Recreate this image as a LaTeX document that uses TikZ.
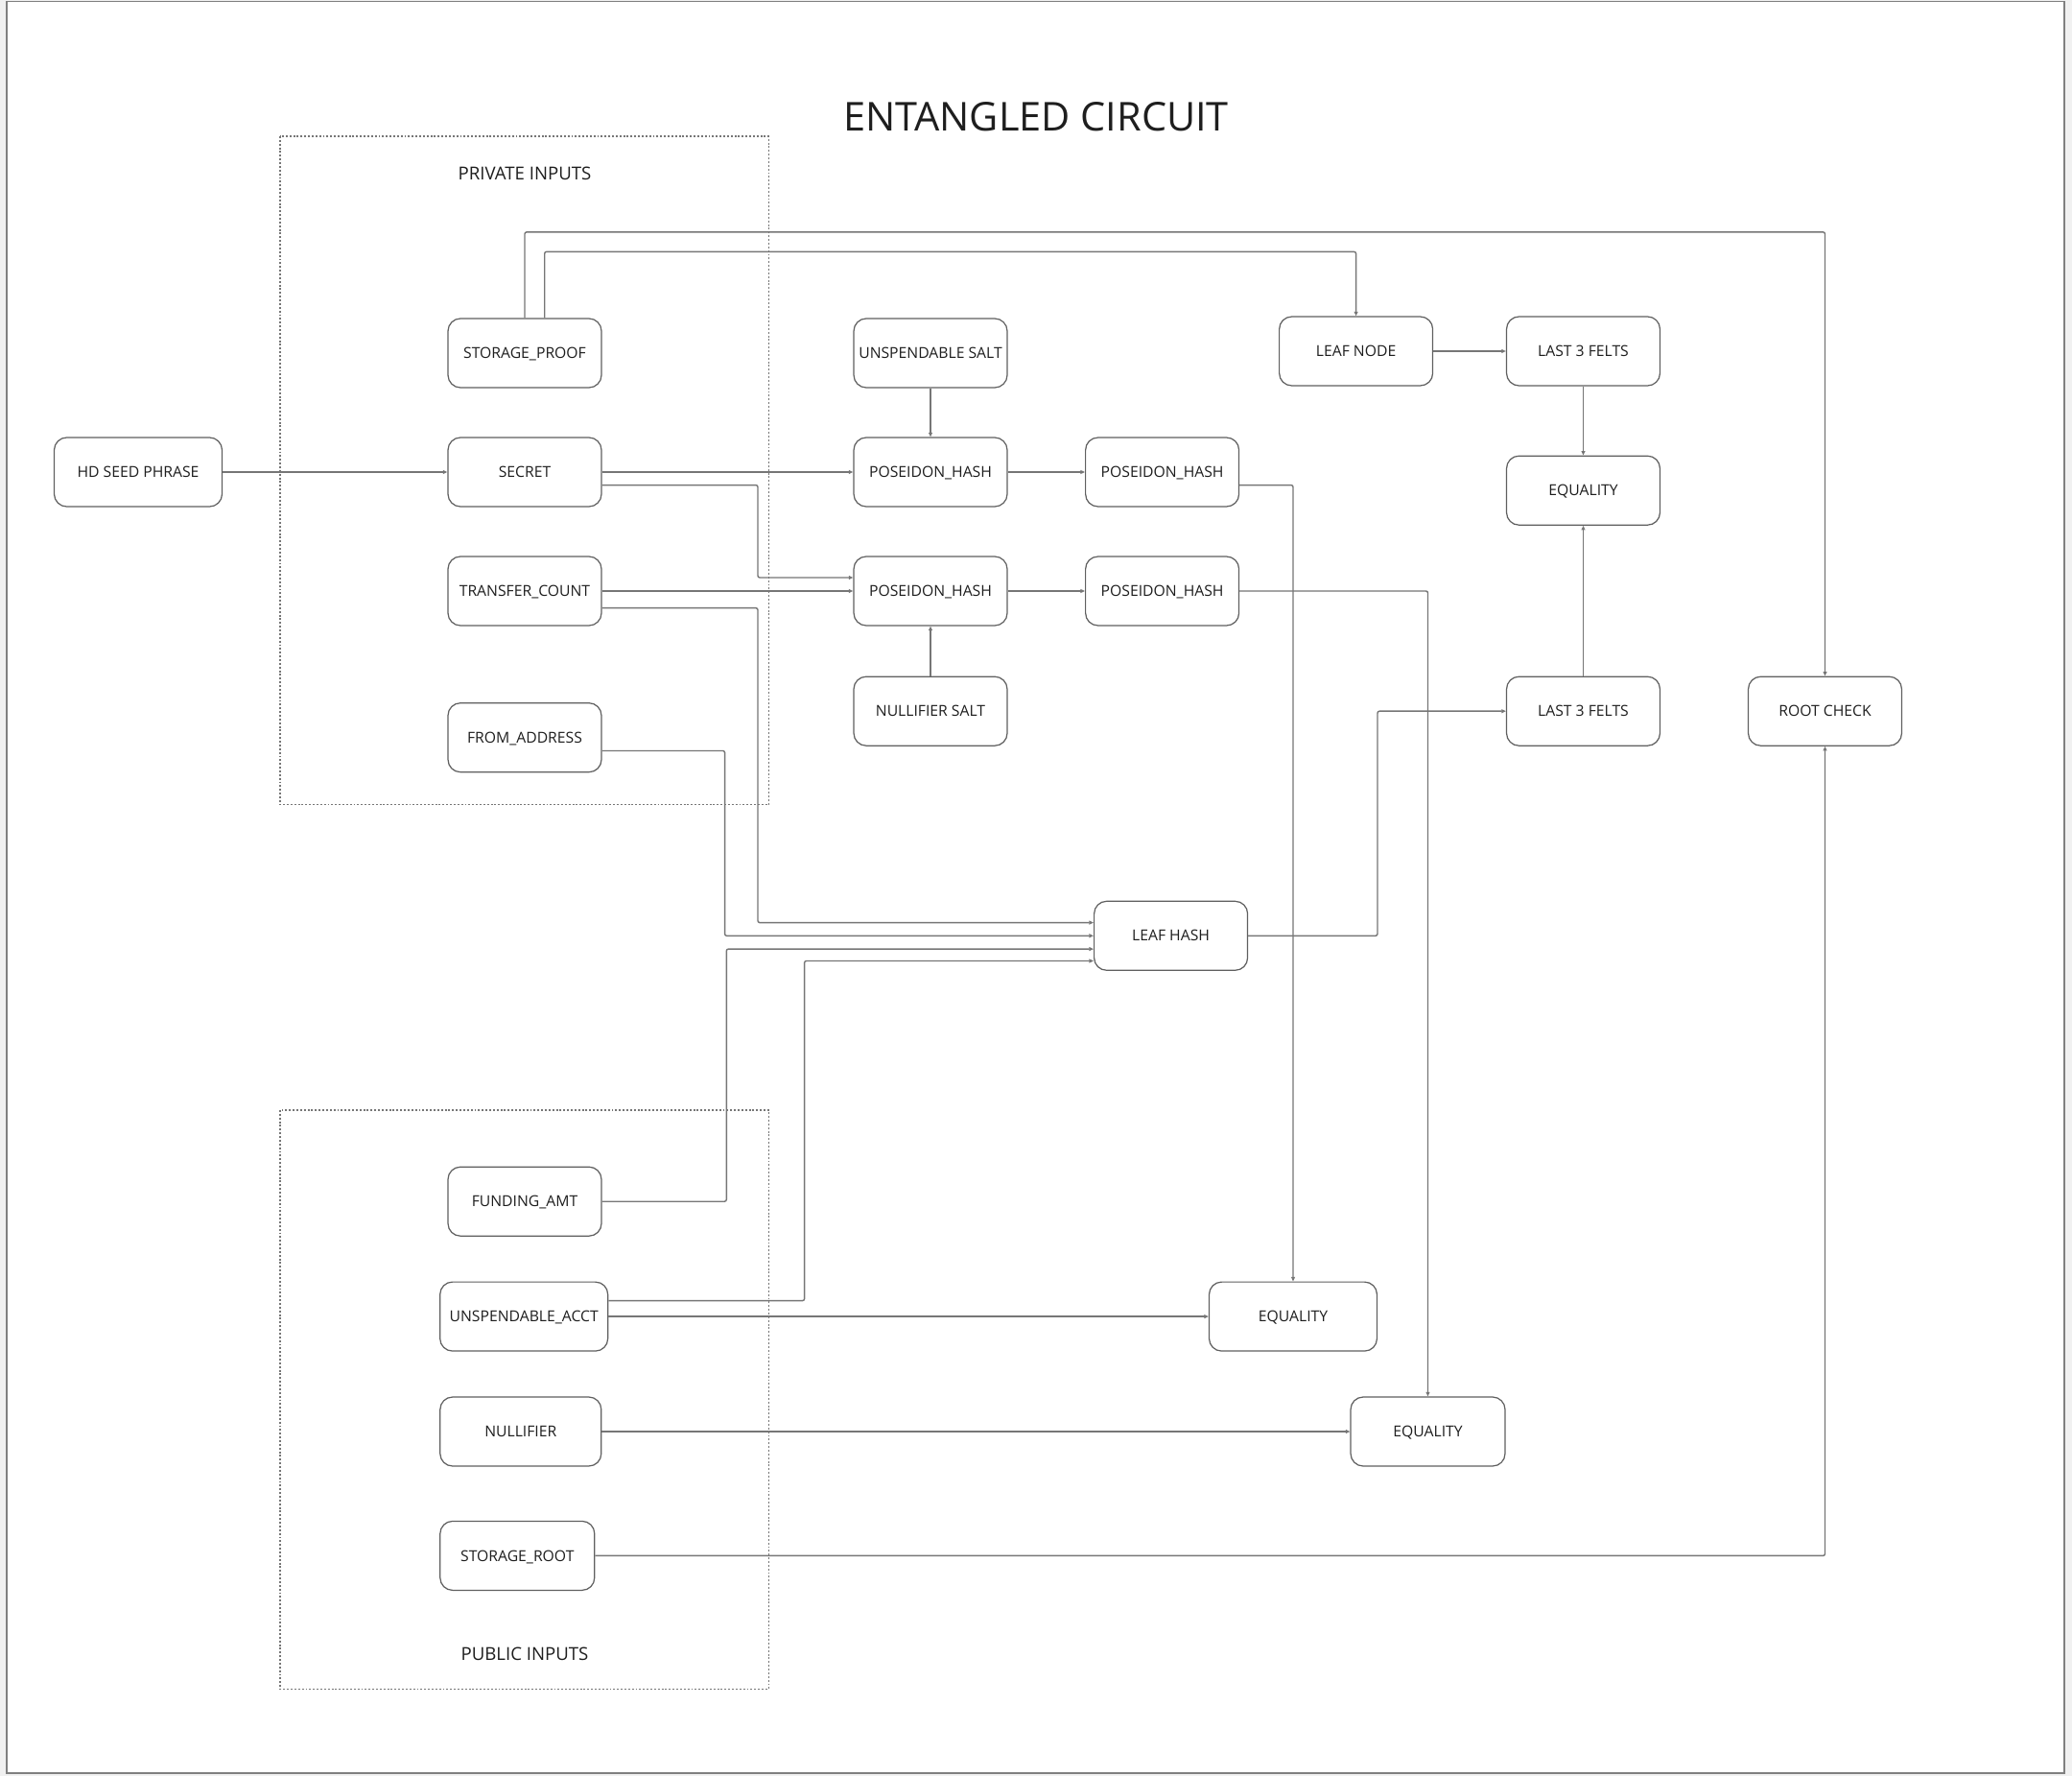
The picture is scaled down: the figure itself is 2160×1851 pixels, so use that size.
\documentclass[tikz,border=0pt]{standalone}
\usepackage{fontspec}
\setmainfont{Open Sans}
\usetikzlibrary{calc,arrows.meta}

\definecolor{edgegray}{RGB}{118,118,118}
\definecolor{boxgray}{RGB}{96,96,96}
\definecolor{pagegray}{RGB}{241,241,241}
\definecolor{textblack}{RGB}{30,30,30}

\begin{document}
\begin{tikzpicture}[x=0.02cm,y=-0.02cm,
    block/.style={draw=boxgray, line width=0.7pt, rounded corners=0.26cm,
      minimum width=3.2cm, minimum height=1.44cm, inner sep=0pt,
      text=textblack, font=\fontsize{8.95}{11}\selectfont,
      text height=6.4pt, text depth=0pt},
    wide/.style={minimum width=3.5cm},
    wire/.style={draw=edgegray, line width=0.8pt, rounded corners=0.04cm},
    arr/.style={wire, -{Triangle[length=2.6pt,width=2.2pt]}},
    group/.style={draw=edgegray, line width=0.7pt, dash pattern=on 1.1pt off 1.1pt},
    grouplabel/.style={text=textblack, font=\fontsize{10.6}{13}\selectfont,
      text height=7.6pt, text depth=0pt}]

    \useasboundingbox (0,0) rectangle (2160,1851);
    \fill[pagegray] (0,0) rectangle (2160,1851);
    \draw[fill=white, draw=gray, line width=1pt] (7,1.5) rectangle (2152,1848);

    \node[text=textblack, font=\fontsize{23.6}{28}\selectfont,
      text height=16.8pt, text depth=0pt] (title) at (1080,122) {ENTANGLED CIRCUIT};

    % input groups
    \draw[group] (292,142) rectangle (801.5,838.5);
    \draw[group] (292,1157) rectangle (801.5,1760.5);
    \node[grouplabel] (privlabel) at (547,180.5) {PRIVATE INPUTS};
    \node[grouplabel] (publabel) at (547,1723.4) {PUBLIC INPUTS};

    % private inputs
    \node[block, wide] (seed) at (144,492) {HD SEED PHRASE};
    \node[block] (proof) at (547,368) {STORAGE\_PROOF};
    \node[block] (secret) at (547,492) {SECRET};
    \node[block] (count) at (547,616) {TRANSFER\_COUNT};
    \node[block] (from) at (547,768.7) {FROM\_ADDRESS};

    % hashing
    \node[block] (usalt) at (970,368) {UNSPENDABLE SALT};
    \node[block] (hashA) at (970,492) {POSEIDON\_HASH};
    \node[block] (hashB) at (1211.6,492) {POSEIDON\_HASH};
    \node[block] (hashC) at (970,616) {POSEIDON\_HASH};
    \node[block] (hashD) at (1211.6,616) {POSEIDON\_HASH};
    \node[block] (nsalt) at (970,741.2) {NULLIFIER SALT};
    \node[block] (leafhash) at (1220.6,975.3) {LEAF HASH};

    % proof checks
    \node[block] (leafnode) at (1413.6,366) {LEAF NODE};
    \node[block] (feltsA) at (1650.5,366) {LAST 3 FELTS};
    \node[block] (eqA) at (1650.5,511.2) {EQUALITY};
    \node[block] (feltsB) at (1650.5,741.2) {LAST 3 FELTS};
    \node[block] (root) at (1902.5,741.2) {ROOT CHECK};

    % public inputs
    \node[block] (amt) at (547,1252.2) {FUNDING\_AMT};
    \node[block, wide] (acct) at (546.2,1372.1) {UNSPENDABLE\_ACCT};
    \node[block, minimum width=3.36cm] (nullifier) at (542.8,1492) {NULLIFIER};
    \node[block, minimum width=3.22cm] (sroot) at (539.3,1621.4) {STORAGE\_ROOT};
    \node[block, wide] (eqB) at (1348,1372.1) {EQUALITY};
    \node[block, minimum width=3.22cm] (eqC) at (1488.5,1492) {EQUALITY};

    % connectors
    \draw[arr] (seed.east) -- (secret.west);
    \draw[arr] (secret.east) -- (hashA.west);
    \draw[arr] ($(secret.east)+(0,13.6)$) -- ++(162.4,0) |- ($(hashC.west)+(0,-14)$);
    \draw[arr] (count.east) -- (hashC.west);
    \draw[arr] ($(count.east)+(0,17.7)$) -- ++(162.4,0) |- ($(leafhash.west)+(0,-13.7)$);
    \draw[arr] ($(from.east)+(0,13.8)$) -- ++(128,0) |- (leafhash.west);
    \draw[arr] (amt.east) -- ++(129.7,0) |- ($(leafhash.west)+(0,13.8)$);
    \draw[arr] ($(acct.east)+(0,-16.5)$) -- ++(204.3,0) |- ($(leafhash.west)+(0,26.2)$);
    \draw[arr] (acct.east) -- (eqB.west);
    \draw[arr] (nullifier.east) -- (eqC.west);
    \draw[arr] (sroot.east) -| (root.south);
    \draw[arr] (proof.north) -- ++(0,-89.5) -| (root.north);
    \draw[arr] ($(proof.north)+(20.7,0)$) -- ++(0,-69) -| (leafnode.north);

    \draw[arr] (usalt) -- (hashA);
    \draw[arr] (nsalt) -- (hashC);
    \draw[arr] (hashA) -- (hashB);
    \draw[arr] (hashC) -- (hashD);
    \draw[arr] ($(hashB.east)+(0,13.6)$) -| (eqB.north);
    \draw[arr] (hashD.east) -| (eqC.north);
    \draw[arr] (leafhash.east) -- ++(134.8,0) |- (feltsB.west);

    \draw[arr] (leafnode) -- (feltsA);
    \draw[arr] (feltsA) -- (eqA);
    \draw[arr] (feltsB) -- (eqA);
\end{tikzpicture}
\end{document}
